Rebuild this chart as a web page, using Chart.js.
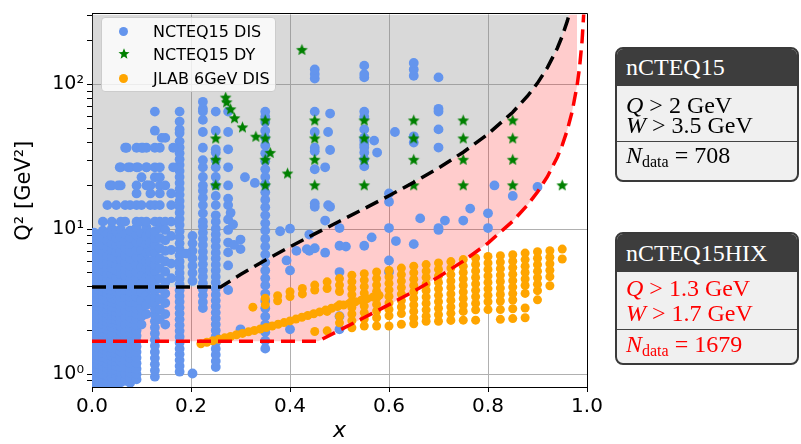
<!DOCTYPE html>
<html>
<head>
<meta charset="utf-8">
<script src="https://cdn.jsdelivr.net/npm/chart.js@4.4.1/dist/chart.umd.min.js"></script>
<style>
  body { margin: 0; background: #fff; }
  #wrap { position: relative; width: 801px; height: 444px; overflow: hidden; }
  #c { position: absolute; left: 0; top: 0; }
  .legend { position: absolute; left: 101px; top: 17px; width: 175px; height: 75px; box-sizing: border-box;
    background: rgba(255,255,255,0.8); border: 1px solid #ccc; border-radius: 4px;
    font-family: 'DejaVu Sans'; font-size: 16px; color: #000; }
  .legend .row { position: absolute; left: 51px; height: 20px; line-height: 20px; white-space: nowrap; }
  .legend .mk { position: absolute; }
  .dot { width: 9px; height: 9px; border-radius: 50%; }
  .box { position: absolute; left: 615px; width: 184px; box-sizing: border-box; border: 2px solid #3a3a3a;
    border-radius: 8px; background: #f0f0f0; overflow: hidden; font-family: 'Liberation Serif'; font-size: 24px; }
  .box .head { position: absolute; left: 0; top: 0; right: 0; background: #3d3d3d; color: #fff; padding-left: 9px; }
  .box .ln { position: absolute; left: 9px; height: 24px; line-height: 24px; white-space: nowrap; }
  .box .div { position: absolute; left: 0; right: 0; height: 0; border-top: 1.5px solid #444; }
  .box sub { font-size: 16px; vertical-align: -4px; line-height: 0; }
  .red { color: #ff0000; }
</style>
</head>
<body>
<div id="wrap">
  <canvas id="c" width="801" height="444"></canvas>

  <div class="legend">
    <div class="mk dot" style="left:17px;top:9px;background:#6495ED"></div>
    <div class="row" style="top:4px">NCTEQ15 DIS</div>
    <svg class="mk" style="left:16px;top:30px" width="12" height="12" viewBox="-6 -6 12 12">
      <polygon fill="#008000" points="0,-5.8 1.5,-2.1 5.5,-1.8 2.4,0.8 3.4,4.7 0,2.6 -3.4,4.7 -2.4,0.8 -5.5,-1.8 -1.5,-2.1"/>
    </svg>
    <div class="row" style="top:27px">NCTEQ15 DY</div>
    <div class="mk dot" style="left:17px;top:56px;background:#FFA500"></div>
    <div class="row" style="top:51px">JLAB 6GeV DIS</div>
  </div>

  <div class="box" style="top:47px;height:135px">
    <div class="head" style="height:37px;line-height:37px">nCTEQ15</div>
    <div class="ln" style="top:44px"><i>Q</i> &gt; 2 GeV</div>
    <div class="ln" style="top:64px"><i>W</i> &gt; 3.5 GeV</div>
    <div class="div" style="top:92px"></div>
    <div class="ln" style="top:94px"><i>N</i><sub>data</sub> = 708</div>
  </div>

  <div class="box" style="top:232px;height:133px">
    <div class="head" style="height:38px;line-height:38px">nCTEQ15HIX</div>
    <div class="ln red" style="top:42px"><i>Q</i> &gt; 1.3 GeV</div>
    <div class="ln red" style="top:67px"><i>W</i> &gt; 1.7 GeV</div>
    <div class="div" style="top:95px"></div>
    <div class="ln red" style="top:98px"><i>N</i><sub>data</sub> = 1679</div>
  </div>
</div>

<script>
// kinematic cut curves (x, Q^2)
var nctCutX  = [0, 0.26, 0.3, 0.35, 0.4, 0.45, 0.5, 0.55, 0.6, 0.65, 0.7, 0.75, 0.8, 0.85, 0.88, 0.9, 0.92, 0.94, 0.95, 0.96, 0.965, 0.98];
var nctCutQ2 = [4, 4, 4.87, 6.12, 7.58, 9.3, 11.37, 13.9, 17.06, 21.1, 26.5, 34.1, 45.5, 64.4, 83.4, 102.3, 130.8, 178, 216, 273, 313, 557];
var hixCutX  = [0, 0.457, 0.5, 0.55, 0.6, 0.65, 0.7, 0.75, 0.8, 0.85, 0.88, 0.9, 0.92, 0.94, 0.95, 0.96, 0.97, 0.98, 0.985, 0.99, 0.994];
var hixCutQ2 = [1.69, 1.69, 2.01, 2.46, 3.02, 3.73, 4.69, 6.03, 8.04, 11.39, 14.74, 18.09, 23.1, 31.5, 38.2, 48.2, 65, 98.5, 132, 199, 333];

// nCTEQ15 DIS points, grouped by x
var disColumns = [
  [0.004, [0.82,0.87,0.93,0.99,1.06,1.13,1.21,1.29,1.38,1.47,1.57,1.68,1.79,1.91,2.04,2.18,2.33,2.49,2.66,2.84,3.03,3.24,3.46,3.7,3.95,4.22,4.6,5.1,5.6,6.2,6.9,7.7,8.6,9.5]],
  [0.013, [0.83,0.89,0.96,1.03,1.1,1.17,1.25,1.34,1.43,1.52,1.63,1.74,1.86,1.98,2.12,2.26,2.41,2.58,2.75,2.94,3.14,3.35,3.58,3.82,4.08,4.4,4.85,5.35,5.9,6.5,7.3,8.2,9.1]],
  [0.022, [0.82,0.88,0.94,1.0,1.07,1.15,1.23,1.31,1.4,1.5,1.6,1.71,1.83,1.95,2.08,2.22,2.37,2.53,2.7,2.88,3.08,3.29,3.51,3.75,4.0,4.35,4.75,5.2,5.75,6.35,7.0,7.8,8.8,9.8,11.3]],
  [0.031, [0.84,0.9,0.97,1.04,1.11,1.19,1.27,1.36,1.45,1.55,1.66,1.77,1.89,2.02,2.16,2.31,2.46,2.63,2.81,3.0,3.2,3.42,3.66,3.9,4.17,4.5,4.95,5.45,6.0,6.6,7.4,8.3,9.3,14.7]],
  [0.04, [0.83,0.89,0.95,1.02,1.09,1.16,1.24,1.33,1.42,1.51,1.62,1.73,1.85,1.97,2.11,2.25,2.4,2.57,2.74,2.93,3.13,3.34,3.57,3.81,4.07,4.45,4.9,5.4,5.9,6.5,7.2,8.0,9.0,10.1,11.3,20.1]],
  [0.049, [0.85,0.92,0.99,1.06,1.14,1.22,1.3,1.39,1.49,1.59,1.7,1.81,1.94,2.07,2.21,2.36,2.52,2.69,2.88,3.07,3.28,3.5,3.74,4.0,4.3,4.7,5.2,5.7,6.3,7.0,7.8,8.7,9.7,14.7]],
  [0.058, [0.88,0.95,1.03,1.12,1.22,1.32,1.43,1.55,1.68,1.82,1.97,2.13,2.3,2.49,2.7,2.92,3.16,3.42,3.7,4.0,4.4,4.9,5.5,6.2,7.0,7.9,8.9,10.0,11.3,20.1,26.8]],
  [0.067, [0.9,1.0,1.12,1.25,1.4,1.57,1.76,1.97,2.2,2.46,2.75,3.05,3.4,3.8,4.25,4.75,5.3,5.9,6.6,7.4,8.3,9.3,11.3,14.7,36.6]],
  [0.077, [0.87,0.94,1.02,1.1,1.19,1.29,1.4,1.52,1.65,1.79,1.94,2.1,2.28,2.47,2.68,2.9,3.15,3.4,3.7,4.05,4.5,5.0,5.6,6.3,7.0,7.9,8.8,9.8,14.7,26.8]],
  [0.09, [0.92,1.0,1.09,1.19,1.3,1.42,1.55,1.69,1.84,2.0,2.18,2.38,2.6,2.83,3.1,3.4,3.75,4.15,4.6,5.1,5.7,6.4,7.2,8.1,9.1,10.3,11.3,14.7,17.7,20.1,26.8,36.6]],
  [0.1, [2.2,2.5,2.85,3.25,3.7,4.2,4.8,5.5,6.3,7.2,8.2,9.4,11.3,14.7,22.9,36.6]],
  [0.11, [2.6,3.0,3.5,4.0,4.6,5.3,6.0,6.9,7.9,9.0,10.3,11.3,20.1,26.8,36.6]],
  [0.118, [3.3,3.9,4.5,5.2,6.0,7.0,8.1,9.4,14.7,17.7,20.1]],
  [0.127, [0.96,1.06,1.17,1.29,1.42,1.57,1.73,1.91,2.1,2.32,2.56,2.83,3.12,3.45,3.8,4.2,4.65,5.15,5.7,6.3,7.0,7.8,8.7,9.7,11.3,14.7,22.9,26.8,36.6,48,65]],
  [0.137, [2.4,2.8,3.3,3.9,4.6,5.4,6.3,7.4,8.7,10.2,11.3,14.7,17.7,20.1,26.8,36.6]],
  [0.148, [2.2,2.6,3.1,3.6,4.3,5.1,6.0,7.1,8.4,9.9,11.3,20.1,42.8]],
  [0.16, [4.6,5.8,7.2,9.0,11.3,14.7,17.7]],
  [0.177, [1.04,1.14,1.25,1.37,1.5,1.65,1.81,1.99,2.18,2.39,2.62,2.88,3.16,3.46,3.8,4.17,4.57,5.0,5.5,6.0,6.6,7.3,8.0,8.8,9.7,10.7,11.8,13,14.3,15.7,17.3,19,20.9,23,25.3,27.8,30.5,33.5,36.8,40.5,46.3,49,55.5,65]],
  [0.203, [1.01,4.4,5.0,5.6,6.3,7.1,8.0,9.0]],
  [0.224, [2.86,3.15,3.5,3.85,4.25,4.7,5.2,5.75,6.35,7.0,7.8,8.6,9.5,10.5,11.3,12.9,14.7,16.5,18.5,20.1,23,26.8,30,36.6,47,57,65,68,76]],
  [0.25, [1.12,1.23,1.36,1.5,1.65,1.82,2.0,2.2,2.42,2.66,2.93,3.22,3.54,3.9,4.3,4.7,5.2,5.7,6.3,6.9,7.6,8.4,9.2,10.1,11.3,12.5,14.7,17,20.1,23,26.8,30,33.9,35.7,48,65]],
  [0.275, [3.81,5.63,6.93,8.1,9.9,11.7,14.7,16.3,20.1,26.8,35.7,47,65]],
  [0.35, [1.5,1.7,1.95,2.2,2.5,2.85,3.2,3.6,4.1,4.6,5.2,5.9,6.7,7.6,8.6,9.8,11,12.5,14.2,16,18,20.5,23,26,29.5,33.5,38,43,48,55,60,65]],
  [0.45, [7.4,14.3,15.1,26,34.6,36.6,47,65,110,118,127]],
  [0.5, [2.04,2.51,5.07,7.7,10.2]],
  [0.55, [7.7,27.2,30.5,33.9,36.7,38.6,41,43,49,60,65,112,118,135]],
  [0.6, [5.07,6.1,10.2,15.5,17.7]],
  [0.65, [7.9,39.7,43.9,115,127,141]],
  [0.7, [9.9,10.2,36.7,49,65,68,112]]
];
var disLoose = [
  [0.3,2.04],[0.3,7.3],[0.309,22.9],[0.329,20.9],[0.28,13],[0.285,10.8],[0.38,9.7],[0.393,6.1],
  [0.4,10.1],[0.4,5.2],[0.4,2.04],[0.413,7.1],[0.439,9.2],[0.439,7.1],[0.471,26.8],[0.471,11.5],
  [0.477,14.7],[0.481,35.3],[0.481,63],[0.481,14.3],[0.477,47],[0.513,7.6],[0.565,8.8],[0.57,41],
  [0.576,33.9],[0.612,47],[0.614,8.3],[0.663,11.9],[0.713,11.5],[0.75,11.5],[0.764,13.9],[0.8,10.2],
  [0.8,12.9],[0.813,20.1],[0.85,17.0],[0.9,19.6],[0.141,42.8],[0.164,36.6],[0.07,36.6],[0.103,36.6],
  [0.036,20.1],[0.053,20.1],[0.113,20.1],[0.056,26.8],[0.073,26.8],[0.093,26.8],[0.11,26.8],[0.137,22.9],
  [0.164,26.8],[0.19,6.8],[0.287,7.8],[0.3,8.5],[0.471,6.9],[0.434,7.3]
];

// nCTEQ15 Drell-Yan points
var dyPoints = [
  [0.25,42.8],[0.25,30.5],[0.25,20.3],[0.27,82],[0.272,76],[0.28,68],[0.288,59],[0.304,51],[0.331,44],
  [0.35,57],[0.35,42.8],[0.35,30.5],[0.35,20.3],[0.36,34],[0.395,24.5],[0.424,175],
  [0.45,57],[0.45,42.8],[0.45,30.5],[0.45,20.3],[0.55,57],[0.55,42.8],[0.55,30.5],[0.55,20.3],
  [0.65,57],[0.65,42.8],[0.65,30.5],[0.65,20.3],[0.75,57],[0.75,42.8],[0.75,30.5],[0.75,20.3],
  [0.85,57],[0.85,42.8],[0.85,30.5],[0.85,20.3],[0.95,20.3]
];

// JLAB 6 GeV points, grouped by x
var jlabColumns = [
  [0.325,[2.9]], [0.35,[3.34,3.01]], [0.375,[3.48,3.21]], [0.4,[3.71,3.43]], [0.425,[3.9,3.58]],
  [0.45,[4.12,3.81,1.97]], [0.475,[4.34,3.9,2.71,1.99]], [0.5,[4.57,4.12,3.72,3.01,2.51,2.26]],
  [0.525,[4.82,4.35,3.92,3.54,3.19,2.88,2.6,2.34,2.09]],
  [0.55,[4.94,4.46,4.02,3.63,3.27,2.95,2.66,2.4,2.15]],
  [0.575,[5.07,4.57,4.12,3.72,3.36,3.03,2.73,2.45,2.15]],
  [0.6,[5.2,4.69,4.23,3.82,3.44,3.1,2.8,2.53,2.15]],
  [0.625,[5.4,4.87,4.39,3.96,3.57,3.22,2.91,2.62,2.21]],
  [0.65,[5.57,5.02,4.53,4.09,3.69,3.33,3.0,2.71,2.44,2.23]],
  [0.675,[5.71,5.15,4.65,4.19,3.78,3.41,3.08,2.78,2.51,2.32]],
  [0.7,[5.86,5.29,4.77,4.3,3.88,3.5,3.16,2.85,2.57,2.32]],
  [0.725,[5.99,5.4,4.87,4.4,3.97,3.58,3.23,2.91,2.63,2.35]],
  [0.75,[6.18,5.57,5.03,4.54,4.09,3.69,3.33,3.0,2.71,2.36]],
  [0.775,[6.34,5.72,5.16,4.65,4.2,3.79,3.42,3.08,2.78,2.36]],
  [0.8,[6.5,5.86,5.29,4.77,4.3,3.88,3.5,3.16,2.79]],
  [0.825,[6.58,5.94,5.35,4.83,4.36,3.93,3.55,3.2,2.79,2.39]],
  [0.85,[6.68,6.03,5.44,4.9,4.42,3.99,3.6,3.25,2.83,2.42]],
  [0.875,[6.85,6.18,5.57,5.03,4.54,4.09,3.61,2.86,2.45]],
  [0.9,[7.0,6.31,5.7,5.14,4.63,4.18,3.77,3.26]],
  [0.925,[7.11,6.41,5.79,5.22,4.71,4.08]],
  [0.95,[7.3,6.24]]
];
var jlabBand = [
  [0.22,1.62],[0.232,1.66],[0.244,1.7],[0.256,1.74],[0.268,1.78],[0.28,1.82],[0.292,1.87],[0.304,1.91],
  [0.316,1.96],[0.328,2.0],[0.34,2.05],[0.352,2.1],[0.364,2.15],[0.376,2.21],[0.388,2.27],[0.4,2.33],
  [0.412,2.4],[0.424,2.47],[0.436,2.54],[0.448,2.61],[0.46,2.69],[0.472,2.77],[0.484,2.85],[0.496,2.93],
  [0.508,3.0],[0.52,3.08],[0.532,3.16],[0.544,3.24],[0.556,3.32],[0.568,3.41],[0.58,3.5]
];

// axis ticks
var xTicks = [0, 0.2, 0.4, 0.6, 0.8, 1.0];
var yTicks = [0.9, 1, 2, 3, 4, 5, 6, 7, 8, 9, 10, 20, 30, 40, 50, 60, 70, 80, 90, 100, 200, 300];
var yMajor = [1, 10, 100];
var yLabels = { 1: "10\u2070", 10: "10\u00b9", 100: "10\u00b2" };

function toPoints(xs, ys) {
  return xs.map(function(x, i) { return { x: x, y: ys[i] }; });
}
function fromColumns(cols) {
  var out = [];
  cols.forEach(function(c) {
    c[1].forEach(function(q) { out.push({ x: c[0], y: q }); });
  });
  return out;
}
function fromPairs(pairs) {
  return pairs.map(function(p) { return { x: p[0], y: p[1] }; });
}

function makeStar(color, r) {
  var s = Math.ceil(r * 2 + 2);
  var cv = document.createElement("canvas");
  cv.width = s; cv.height = s;
  var g = cv.getContext("2d");
  g.translate(s / 2, s / 2 + 0.8);
  g.beginPath();
  for (var i = 0; i < 10; i++) {
    var rad = i % 2 === 0 ? r : r * 0.45;
    var a = -Math.PI / 2 + i * Math.PI / 5;
    g.lineTo(rad * Math.cos(a), rad * Math.sin(a));
  }
  g.closePath();
  g.fillStyle = color;
  g.fill();
  return cv;
}

var frame = {
  id: "frame",
  afterDraw: function(chart) {
    var a = chart.chartArea, ctx = chart.ctx;
    ctx.save();
    ctx.strokeStyle = "#000";
    ctx.lineWidth = 1;
    ctx.beginPath();
    ctx.moveTo(a.left, Math.round(a.top) - 0.5);
    ctx.lineTo(Math.round(a.right) + 0.5, Math.round(a.top) - 0.5);
    ctx.lineTo(Math.round(a.right) + 0.5, a.bottom);
    ctx.stroke();
    ctx.restore();
  }
};

var tickFont = { family: "DejaVu Sans", size: 20 };

new Chart(document.getElementById("c"), {
  type: "scatter",
  data: {
    datasets: [
      {
        label: "nCTEQ15 cut", data: toPoints(nctCutX, nctCutQ2), showLine: true,
        borderColor: "#000", borderWidth: 3.5, borderDash: [14, 7], pointRadius: 0,
        fill: "end", backgroundColor: "rgba(128,128,128,0.3)", order: 0, clip: 0
      },
      {
        label: "nCTEQ15HIX cut", data: toPoints(hixCutX, hixCutQ2), showLine: true,
        borderColor: "#ff0000", borderWidth: 3.5, borderDash: [14, 7], pointRadius: 0,
        fill: "-1", backgroundColor: "rgba(255,0,0,0.2)", order: 1, clip: 0
      },
      {
        label: "NCTEQ15 DIS", data: fromColumns(disColumns).concat(fromPairs(disLoose)),
        backgroundColor: "#6495ED", borderWidth: 0, pointRadius: 4.9, order: 4, clip: 0
      },
      {
        label: "NCTEQ15 DY", data: fromPairs(dyPoints),
        pointStyle: makeStar("#008000", 6.2), order: 2, clip: 0
      },
      {
        label: "JLAB 6GeV DIS", data: fromColumns(jlabColumns).concat(fromPairs(jlabBand)),
        backgroundColor: "#FFA500", borderWidth: 0, pointRadius: 4.5, order: 3, clip: 0
      }
    ]
  },
  options: {
    responsive: false,
    animation: false,
    events: [],
    layout: { padding: { left: 0, right: 214, top: 7, bottom: 0 } },
    plugins: {
      legend: { display: false },
      tooltip: { enabled: false },
      filler: { drawTime: "beforeDatasetsDraw" }
    },
    scales: {
      x: {
        type: "linear", min: 0, max: 1,
        afterBuildTicks: function(s) { s.ticks = xTicks.map(function(v) { return { value: v }; }); },
        afterFit: function(s) { s.height = 57; },
        ticks: { font: tickFont, color: "#000", padding: 3, callback: function(v) { return v.toFixed(1); } },
        grid: { color: "#b0b0b0", tickColor: "#000", tickLength: 5 },
        border: { color: "#000" },
        title: { display: true, text: "x", color: "#000",
          font: { family: "DejaVu Sans", size: 22, style: "italic", lineHeight: 1 },
          padding: { top: 0, bottom: 2 } }
      },
      y: {
        type: "logarithmic", min: 0.815, max: 305,
        afterBuildTicks: function(s) { s.ticks = yTicks.map(function(v) { return { value: v }; }); },
        afterFit: function(s) { s.width = 92; },
        ticks: { autoSkip: false, font: { family: "DejaVu Sans", size: 19 }, color: "#000", padding: 3,
          callback: function(v) { return yLabels[v] || ""; } },
        grid: {
          color: function(ctx) { return ctx.tick && yMajor.indexOf(ctx.tick.value) >= 0 ? "#b0b0b0" : "rgba(0,0,0,0)"; },
          tickColor: "#000", tickLength: 5
        },
        border: { color: "#000" },
        title: { display: true, text: "   Q\u00b2 [GeV\u00b2]", color: "#000",
          font: { family: "DejaVu Sans", size: 21 }, padding: { top: 12, bottom: 0 } }
      }
    }
  },
  plugins: [frame]
});
</script>
</body>
</html>
